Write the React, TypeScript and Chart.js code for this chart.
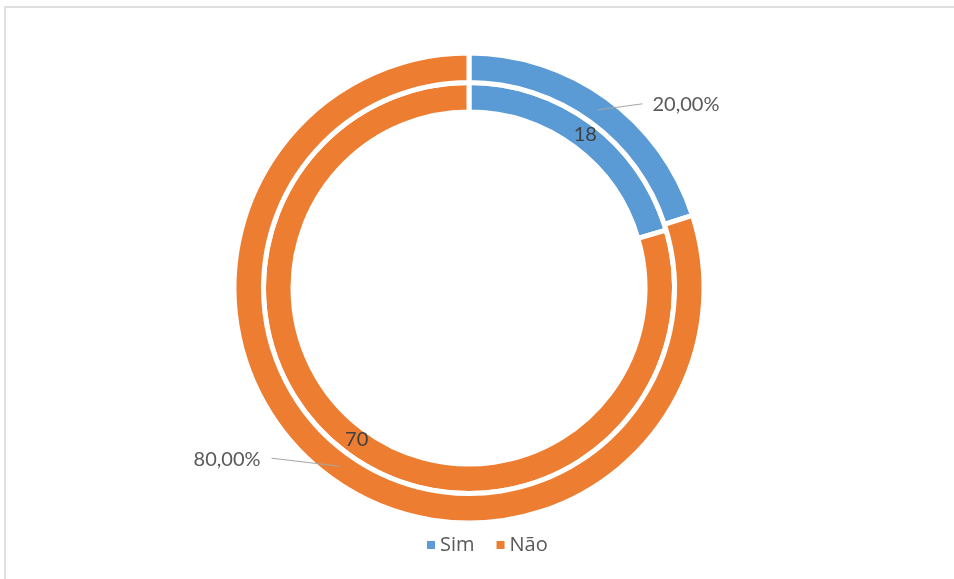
import { useEffect, useRef } from "react";
import { Chart, registerables } from "chart.js";

Chart.register(...registerables);

// ---- data ----
const categories = ["Sim", "Não"];
const percentValues = [20, 80];
const countValues = [18, 70];
const percentLabels = ["20,00%", "80,00%"];
const sliceColors = ["#5B9BD5", "#ED7D31"];

const FONT = "Lato, 'Open Sans', sans-serif";
const LEGEND_FONT = "'Open Sans', Lato, sans-serif";

const labelsPlugin = {
  id: "excelLabels",
  afterDatasetsDraw(chart: any) {
    const ctx = chart.ctx as CanvasRenderingContext2D;
    ctx.save();
    // outer ring: percentage labels with leader lines
    const outer = chart.getDatasetMeta(0).data;
    outer.forEach((arc: any, i: number) => {
      const p = arc.tooltipPosition();
      const right = p.x >= arc.x;
      const end = right ? { x: p.x + 44, y: p.y - 6 } : { x: p.x - 68, y: p.y - 8 };
      ctx.strokeStyle = "#A6A6A6";
      ctx.lineWidth = 1;
      ctx.beginPath();
      ctx.moveTo(p.x, p.y);
      ctx.lineTo(end.x, end.y);
      ctx.stroke();
      ctx.font = `20px ${FONT}`;
      ctx.fillStyle = "#595959";
      ctx.textBaseline = "middle";
      ctx.textAlign = right ? "left" : "right";
      ctx.fillText(percentLabels[i], right ? end.x + 10 : end.x - 11, end.y + 1);
    });
    // inner ring: counts at slice centres
    const inner = chart.getDatasetMeta(1).data;
    inner.forEach((arc: any, i: number) => {
      const p = arc.tooltipPosition();
      ctx.font = `20px ${FONT}`;
      ctx.fillStyle = "#404040";
      ctx.textBaseline = "middle";
      ctx.textAlign = "center";
      ctx.fillText(String(countValues[i]), p.x + 2, p.y - 1);
    });
    // legend
    let x = 427;
    const y = 545;
    ctx.font = `20px ${LEGEND_FONT}`;
    ctx.textAlign = "left";
    ctx.textBaseline = "middle";
    categories.forEach((c, i) => {
      ctx.fillStyle = sliceColors[i];
      ctx.fillRect(x, y - 4, 8, 8);
      x += 13;
      ctx.fillStyle = "#595959";
      ctx.fillText(c, x, y);
      x += ctx.measureText(c).width + 22;
    });
    ctx.restore();
  },
};

export default function App() {
  const ref = useRef<HTMLCanvasElement | null>(null);
  useEffect(() => {
    if (!ref.current) return;
    const chart = new Chart(ref.current, {
      type: "doughnut",
      data: {
        labels: categories,
        datasets: [
          {
            data: percentValues,
            backgroundColor: sliceColors,
            borderColor: "#FFFFFF",
            borderWidth: 5,
          },
          {
            data: countValues,
            backgroundColor: sliceColors,
            borderColor: "#FFFFFF",
            borderWidth: 5,
          },
        ],
      },
      options: {
        animation: false,
        responsive: false,
        radius: 235,
        cutout: "74.9%",
        layout: { padding: { left: 0, right: 16, top: 0, bottom: 3 } },
        plugins: {
          legend: { display: false },
          tooltip: { enabled: false },
        },
      } as any,
      plugins: [labelsPlugin],
    });
    return () => chart.destroy();
  }, []);

  return (
    <div
      style={{
        position: "fixed",
        left: 0,
        top: 0,
        width: 954,
        height: 579,
        background: "#FFFFFF",
        overflow: "hidden",
      }}
    >
      <canvas ref={ref} width={954} height={579} style={{ position: "absolute", left: 0, top: 0 }} />
      <div style={{ position: "absolute", left: 5, top: 6, right: 0, height: 2, background: "#E0E0E0" }} />
      <div style={{ position: "absolute", left: 4, top: 6, width: 2, bottom: 0, background: "#E0E0E0" }} />
    </div>
  );
}
